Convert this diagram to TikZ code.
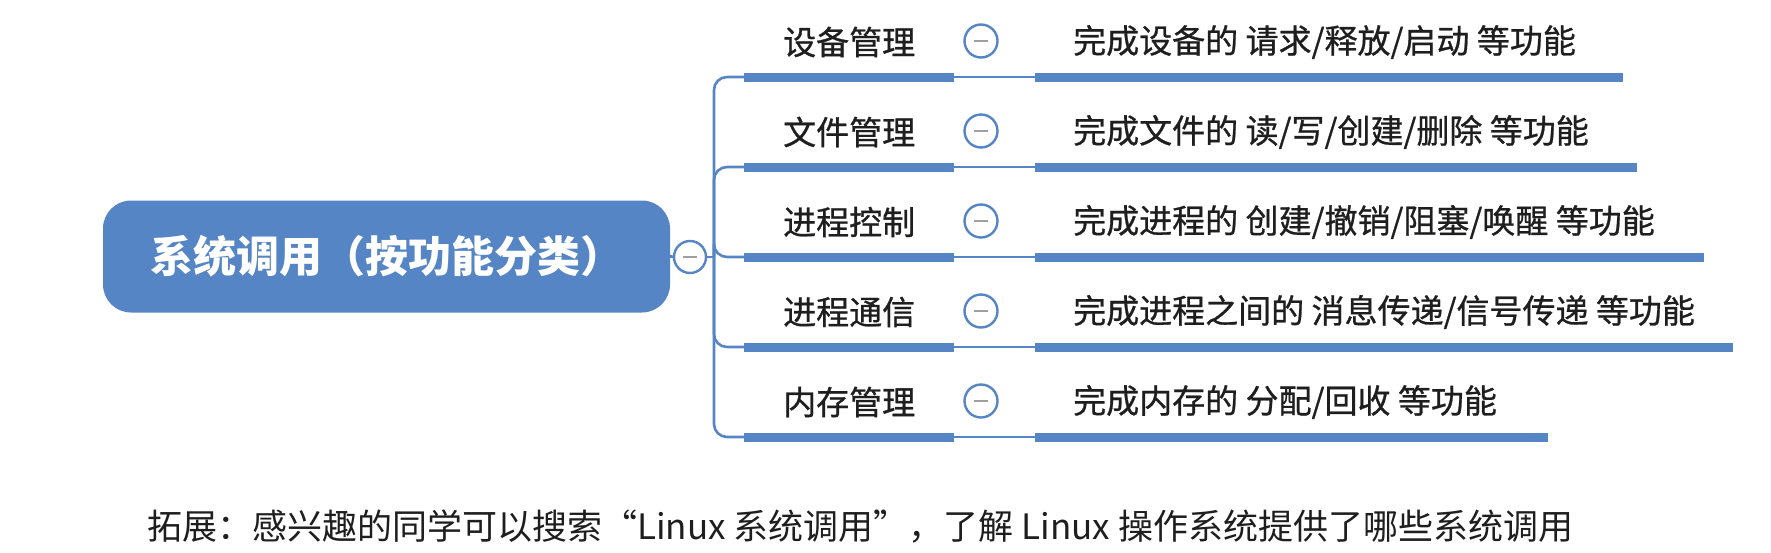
\documentclass[tikz,border=0pt]{standalone}
\usepackage{fontspec}
\newfontfamily\cjk{Noto Sans CJK SC}
\newfontfamily\cjkm{Noto Sans CJK SC}[FakeBold=0.8]
\definecolor{mblue}{HTML}{5585C5}
\definecolor{ink}{HTML}{1E1E1E}
\begin{document}
\begin{tikzpicture}[x=1pt,y=-1pt,
  bar/.style={mblue, line width=9pt},
  link/.style={mblue, line width=2.6pt},
  root/.style={fill=mblue, rounded corners=28pt, minimum width=567pt, minimum height=112pt,
    text=white, font=\cjk\bfseries\fontsize{43}{50}\selectfont, inner sep=0pt},
  tog/.style={circle, draw=mblue, line width=2.4pt, fill=white, minimum size=33pt, inner sep=0pt,
    path picture={\draw[gray!75, line width=2.8pt] ([xshift=-7pt]path picture bounding box.center) -- ([xshift=7pt]path picture bounding box.center);}},
  cat/.style={font=\cjkm\fontsize{33}{40}\selectfont, text=ink, anchor=west, inner sep=0pt},
  desc/.style={font=\cjkm\fontsize{33}{40}\selectfont, text=ink, anchor=west, inner sep=0pt},
  note/.style={font=\cjk\fontsize{35}{40}\selectfont, text=ink, anchor=west, inner sep=0pt}]
\path[use as bounding box] (0,0) rectangle (1771,552);
\node[root] (root) at (386.5,256.5) {系统调用（按功能分类）};
\node[tog, minimum size=32pt] (t0) at (690,257) {};
\coordinate (hub) at (714,257);
\draw[link] (root.east) -- (t0);
\draw[link] (t0) -- (hub);
% rows
\coordinate (a1) at (744,77);  \coordinate (m1) at (954,77);  \coordinate (d1) at (1035,77);  \coordinate (e1) at (1623,77);
\coordinate (a2) at (744,167); \coordinate (m2) at (954,167); \coordinate (d2) at (1035,167); \coordinate (e2) at (1637,167);
\coordinate (a3) at (744,257); \coordinate (m3) at (954,257); \coordinate (d3) at (1035,257); \coordinate (e3) at (1704,257);
\coordinate (a4) at (744,347); \coordinate (m4) at (954,347); \coordinate (d4) at (1035,347); \coordinate (e4) at (1733,347);
\coordinate (a5) at (744,437); \coordinate (m5) at (954,437); \coordinate (d5) at (1035,437); \coordinate (e5) at (1548,437);
\foreach \i in {1,...,5}{
  \draw[link, rounded corners=13pt] (hub) |- (a\i);
  \draw[bar] (a\i) -- (m\i);
  \draw[link] (m\i) -- (d\i);
  \draw[bar] (d\i) -- (e\i);
}
\node[cat] (c1) at (783,42) {设备管理};
\node[cat] (c2) at (783,132) {文件管理};
\node[cat] (c3) at (783,222) {进程控制};
\node[cat] (c4) at (783,312) {进程通信};
\node[cat] (c5) at (783,402) {内存管理};
\node[tog] (t1) at (981,41) {};
\node[tog] (t2) at (981,131) {};
\node[tog] (t3) at (981,221) {};
\node[tog] (t4) at (981,311) {};
\node[tog] (t5) at (981,401) {};
\node[desc] (x1) at (1073,42) {完成设备的 请求/释放/启动 等功能};
\node[desc] (x2) at (1073,132) {完成文件的 读/写/创建/删除 等功能};
\node[desc] (x3) at (1073,222) {完成进程的 创建/撤销/阻塞/唤醒 等功能};
\node[desc] (x4) at (1073,312) {完成进程之间的 消息传递/信号传递 等功能};
\node[desc] (x5) at (1073,402) {完成内存的 分配/回收 等功能};
\node[note] (n) at (147,527) {拓展：感兴趣的同学可以搜索“Linux 系统调用”，了解 Linux 操作系统提供了哪些系统调用};
\end{tikzpicture}
\end{document}
